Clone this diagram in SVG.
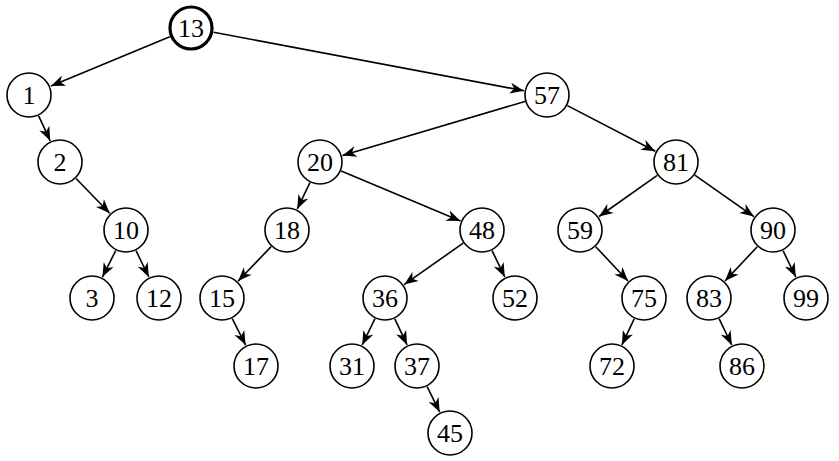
<svg xmlns="http://www.w3.org/2000/svg" width="839" height="461" viewBox="0 0 839 461">
<style>
.n circle{fill:#fff;stroke:#000;stroke-width:1.6}
.root circle{stroke-width:3.2}
.n text{font-family:"Liberation Serif","DejaVu Serif",serif;font-size:26px;text-anchor:middle;fill:#000}
.e line{stroke:#000;stroke-width:1.6;marker-end:url(#ah)}
</style>
<defs>
<marker id="ah" markerUnits="userSpaceOnUse" viewBox="-15 -7 16 14" refX="0" refY="0" markerWidth="16" markerHeight="14" orient="auto">
<path d="M0,0 L-14,-5.5 L-10,0 L-14,5.5 Z" fill="#000"/>
</marker>
</defs>
<g id="edges" class="e">
<line x1="169.75" y1="36.79" x2="51" y2="85.9"/>
<line x1="213.6" y1="32.25" x2="524" y2="90.7"/>
<line x1="38.66" y1="115.87" x2="50.2" y2="140.8"/>
<line x1="76.02" y1="178.5" x2="109.7" y2="213.2"/>
<line x1="115.71" y1="250.57" x2="102.4" y2="277.1"/>
<line x1="136.04" y1="250.69" x2="148.8" y2="277"/>
<line x1="524.94" y1="101.51" x2="342.4" y2="155.4"/>
<line x1="567.41" y1="105.6" x2="655.3" y2="151.3"/>
<line x1="309.96" y1="182.69" x2="297.2" y2="209"/>
<line x1="341.21" y1="170.9" x2="460.5" y2="221"/>
<line x1="657.23" y1="175.29" x2="599" y2="216.5"/>
<line x1="694.83" y1="175.2" x2="753.9" y2="216.6"/>
<line x1="271.11" y1="246.63" x2="238.1" y2="281.1"/>
<line x1="463.17" y1="243.2" x2="404.1" y2="284.6"/>
<line x1="492.04" y1="250.69" x2="504.8" y2="277"/>
<line x1="595.76" y1="246.75" x2="628" y2="281"/>
<line x1="757.24" y1="246.75" x2="725" y2="281"/>
<line x1="783.04" y1="250.69" x2="795.8" y2="277"/>
<line x1="232.29" y1="318.57" x2="245.6" y2="345.1"/>
<line x1="374.96" y1="318.69" x2="362.2" y2="345"/>
<line x1="394.79" y1="318.81" x2="407.1" y2="344.9"/>
<line x1="634.21" y1="318.81" x2="621.9" y2="344.9"/>
<line x1="719.04" y1="318.69" x2="731.8" y2="345"/>
<line x1="427.16" y1="386.63" x2="439.7" y2="412.1"/>
</g>
<g id="n13" class="n root"><circle cx="191" cy="28" r="21"/><text x="191" y="37">13</text></g>
<g id="n1" class="n"><circle cx="29" cy="95" r="22"/><text x="29" y="104">1</text></g>
<g id="n57" class="n"><circle cx="547" cy="95" r="22"/><text x="547" y="104">57</text></g>
<g id="n2" class="n"><circle cx="60" cy="162" r="22"/><text x="60" y="171">2</text></g>
<g id="n20" class="n"><circle cx="320" cy="162" r="22"/><text x="320" y="171">20</text></g>
<g id="n81" class="n"><circle cx="676" cy="162" r="22"/><text x="676" y="171">81</text></g>
<g id="n10" class="n"><circle cx="126" cy="230" r="22"/><text x="126" y="239">10</text></g>
<g id="n18" class="n"><circle cx="287" cy="230" r="22"/><text x="287" y="239">18</text></g>
<g id="n48" class="n"><circle cx="482" cy="230" r="22"/><text x="482" y="239">48</text></g>
<g id="n59" class="n"><circle cx="580" cy="230" r="22"/><text x="580" y="239">59</text></g>
<g id="n90" class="n"><circle cx="773" cy="230" r="22"/><text x="773" y="239">90</text></g>
<g id="n3" class="n"><circle cx="92" cy="298" r="22"/><text x="92" y="307">3</text></g>
<g id="n12" class="n"><circle cx="159" cy="298" r="22"/><text x="159" y="307">12</text></g>
<g id="n15" class="n"><circle cx="222" cy="298" r="22"/><text x="222" y="307">15</text></g>
<g id="n36" class="n"><circle cx="385" cy="298" r="22"/><text x="385" y="307">36</text></g>
<g id="n52" class="n"><circle cx="515" cy="298" r="22"/><text x="515" y="307">52</text></g>
<g id="n75" class="n"><circle cx="644" cy="298" r="22"/><text x="644" y="307">75</text></g>
<g id="n83" class="n"><circle cx="709" cy="298" r="22"/><text x="709" y="307">83</text></g>
<g id="n99" class="n"><circle cx="806" cy="298" r="22"/><text x="806" y="307">99</text></g>
<g id="n17" class="n"><circle cx="256" cy="366" r="22"/><text x="256" y="375">17</text></g>
<g id="n31" class="n"><circle cx="352" cy="366" r="22"/><text x="352" y="375">31</text></g>
<g id="n37" class="n"><circle cx="417" cy="366" r="22"/><text x="417" y="375">37</text></g>
<g id="n72" class="n"><circle cx="612" cy="366" r="22"/><text x="612" y="375">72</text></g>
<g id="n86" class="n"><circle cx="742" cy="366" r="22"/><text x="742" y="375">86</text></g>
<g id="n45" class="n"><circle cx="450" cy="433" r="22"/><text x="450" y="442">45</text></g>
</svg>
